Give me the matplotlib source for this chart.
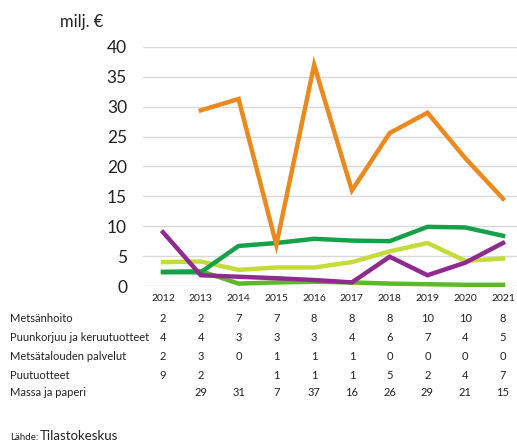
import numpy as np
import matplotlib.pyplot as plt

years = [2012, 2013, 2014, 2015, 2016, 2017, 2018, 2019, 2020, 2021]
nan = np.nan

metsanhoito = [2.3, 2.3, 6.7, 7.2, 7.9, 7.6, 7.5, 9.9, 9.8, 8.4]
puunkorjuu = [4.0, 4.1, 2.7, 3.1, 3.1, 4.0, 5.8, 7.2, 4.2, 4.6]
palvelut = [2.4, 2.5, 0.4, 0.6, 0.7, 0.6, 0.4, 0.3, 0.2, 0.2]
puutuotteet = [9.0, 1.8, nan, 1.3, 1.0, 0.6, 4.9, 1.8, 3.9, 7.2]
massa = [nan, 29.4, 31.3, 6.9, 37.0, 16.0, 25.6, 29.0, 21.4, 14.6]

names = ["Metsänhoito", "Puunkorjuu ja keruutuotteet", "Metsätalouden palvelut",
         "Puutuotteet", "Massa ja paperi"]
series = [metsanhoito, puunkorjuu, palvelut, puutuotteet, massa]
colors = ["#17a04a", "#c3dc3a", "#5cb92a", "#8f2a8f", "#ea8a1e"]

plt.rcParams["font.family"] = ["Lato", "DejaVu Sans"]

fig = plt.figure(figsize=(5.17, 4.44), dpi=100)
ax = fig.add_axes([143 / 517, 158 / 444, 374 / 517, 239 / 444])

# draw order: back to front as in the original
order = [2, 1, 0, 3, 4]
for i in order:
    y = np.array(series[i], dtype=float)
    ok = ~np.isnan(y)
    ax.plot(np.array(years)[ok], y[ok], color=colors[i], lw=3.2,
            solid_joinstyle="miter", clip_on=False, zorder=3)

ax.set_ylim(0, 40)
ax.set_xlim(2011.47, 2021.37)
ax.set_yticks(range(0, 41, 5))
ax.set_xticks(years)
ax.grid(axis="y", color="#d9d9d9", lw=1)
ax.set_axisbelow(True)
for s in ax.spines.values():
    s.set_visible(False)
ax.tick_params(axis="y", length=0, labelsize=12.5, pad=11.5, labelcolor="#222222")
ax.tick_params(axis="x", length=0, labelsize=7.5, pad=6, labelcolor="#222222")

fig.text(60 / 517, 1 - 22 / 444, "milj. €", fontsize=12, va="center", color="#222222")


def fmt(v):
    if np.isnan(v):
        return ""
    return str(int(np.floor(v + 0.5)))


row_y = [318, 337, 356, 375, 393]
for name, vals, ry in zip(names, series, row_y):
    fig.text(10 / 517, 1 - ry / 444, name, fontsize=8, va="center", color="#222222")
    for yr, v in zip(years, vals):
        xd = ax.transData.transform((yr, 0))[0]
        fig.text(xd / fig.bbox.width, 1 - ry / 444, fmt(v), fontsize=8,
                 ha="center", va="center", color="#222222")

fig.text(10 / 517, 1 - 437 / 444, "Lähde:", fontsize=7, va="center", color="#222222")
fig.text(40 / 517, 1 - 436 / 444, "Tilastokeskus", fontsize=9.5, va="center", color="#222222")

fig.savefig("out.png", dpi=100)
